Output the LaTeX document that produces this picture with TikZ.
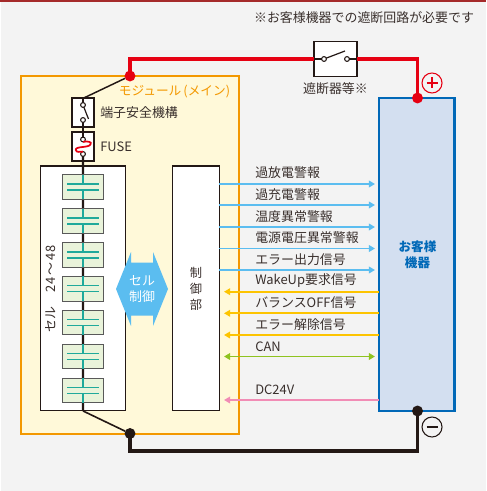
\documentclass[tikz,border=0pt]{standalone}
\usepackage{fontspec}
\setmainfont{Noto Sans CJK JP}
\usetikzlibrary{arrows.meta}

\definecolor{bgcol}{HTML}{F3F3F3}
\definecolor{topcol}{HTML}{A52A2A}
\definecolor{modcol}{HTML}{F39800}
\definecolor{modfill}{HTML}{FFF9D9}
\definecolor{custcol}{HTML}{0068B7}
\definecolor{custfill}{HTML}{D3DFF0}
\definecolor{redcol}{HTML}{E60012}
\definecolor{inkcol}{HTML}{231815}
\definecolor{cellfill}{HTML}{E9F3DA}
\definecolor{platecol}{HTML}{1FA99B}
\definecolor{skycol}{HTML}{5BBDF0}
\definecolor{yelcol}{HTML}{FDC400}
\definecolor{grncol}{HTML}{8FC31F}
\definecolor{pnkcol}{HTML}{F18CB5}

\begin{document}
\begin{tikzpicture}[x=0.75pt,y=-0.75pt]

\tikzstyle {panel}=[draw=inkcol,line width=0.8pt,fill=white,shape=rectangle,inner sep=0pt,outer sep=0pt];
\tikzstyle {termbox}=[draw=inkcol,line width=1.3pt,fill=white,shape=rectangle,inner sep=0pt,outer sep=0pt,
     minimum width=17pt,minimum height=21.5pt];
\tikzstyle {cellbox}=[draw=black!65,line width=0.8pt,fill=cellfill,shape=rectangle,inner sep=0pt,outer sep=0pt,
     minimum width=31pt,minimum height=18.5pt];
\tikzstyle {bigdot}=[shape=circle,inner sep=0pt,outer sep=0pt,minimum size=8.2pt];
\tikzstyle {pin}=[draw=inkcol,line width=0.8pt,fill=white,shape=circle,inner sep=0pt,outer sep=0pt,minimum size=3.6pt];
\tikzstyle {pole}=[shape=circle,line width=0.8pt,inner sep=0pt,outer sep=0pt,minimum size=15pt];
\tikzstyle {textlabel}=[text=inkcol!90,font=\fontsize{9.7}{11}\selectfont,inner sep=0pt];
\tikzstyle {siglabel}=[textlabel,anchor=west];
\tikzstyle {sigline}=[line width=1.4pt];
\tikzstyle {sigtip}=[-{Triangle[length=4.6pt,width=5pt]}];
\tikzstyle {sigback}=[{Triangle[length=4.6pt,width=5pt]}-];
\tikzstyle {wire}=[draw=inkcol,line width=1.6pt];

\newcommand*{\batcell}[2]{
\draw (83,#2) node [cellbox] (#1) {};
\draw [platecol,line width=1.1pt] (67,#2-3) -- (99,#2-3);
\draw [platecol,line width=1.1pt] (67,#2+3) -- (99,#2+3);
\draw [platecol,line width=1.1pt] (#1.north) -- +(0,9.3);
\draw [platecol,line width=1.1pt] (#1.south) -- +(0,-9.3);
}

% Ground
\useasboundingbox (0,0) rectangle (486,491);
\fill [bgcol] (1,0) rectangle (486,491);
\fill [topcol] (0,0) rectangle (486,2);

% Boxes
\draw (21,76) node [draw=modcol,line width=2pt,fill=modfill,shape=rectangle,inner sep=0pt,outer sep=0pt,
      minimum width=163.5pt,minimum height=268.5pt,anchor=north west] (module) {};
\draw (379,98) node [draw=custcol,line width=2pt,fill=custfill,shape=rectangle,inner sep=0pt,outer sep=0pt,
      minimum width=56.5pt,minimum height=234.7pt,anchor=north west] (cust) {};
\draw (40.5,166) node [panel,minimum width=63.7pt,minimum height=183.7pt,anchor=north west] (cells) {};
\draw (172.5,166) node [panel,minimum width=35.2pt,minimum height=183.7pt,anchor=north west] (ctrl) {};

% Main power lines
\draw (130,76) node [bigdot,fill=redcol] (modplus) {};
\draw (417.5,98) node [bigdot,fill=redcol] (custplus) {};
\draw (130,433.5) node [bigdot,fill=inkcol] (modminus) {};
\draw (417.5,411) node [bigdot,fill=inkcol] (custminus) {};
\draw (335.5,59) node [draw=inkcol,line width=1.2pt,fill=white,shape=rectangle,inner sep=0pt,outer sep=0pt,
      minimum width=32pt,minimum height=26pt] (breaker) {};
\draw [redcol,line width=2.4pt] (modplus.center) |- (breaker.west);
\draw [redcol,line width=2.4pt] (breaker.east) -| (custplus.center);
\draw [inkcol,line width=2.4pt] (modminus.center) |- (417.5,451) -- (custminus.center);

\draw (324,59) node [pin] (brk1) {};
\draw (347,59) node [pin] (brk2) {};
\draw [inkcol,line width=0.9pt] (breaker.west) -- (brk1);
\draw [inkcol,line width=0.9pt] (brk2) -- (breaker.east);
\draw [inkcol,line width=0.9pt] (brk1) -- (345,51);

% Terminal boxes
\draw (83,112.7) node [termbox] (safety) {};
\draw (83,146.7) node [termbox] (fuse) {};
\draw [wire,line width=1.1pt] (modplus) -- (safety.north);
\draw [wire,line width=1.2pt] (cells.south) -- (modminus);
\draw [wire] (safety.north) -- (83,105);
\draw [wire] (83,120) -- (fuse.north) -- (83,139.5);
\draw [wire] (83,154) -- (cells.south);
\draw (83,105) node [pin] (safe1) {};
\draw (83,120) node [pin] (safe2) {};
\draw [inkcol,line width=0.9pt] (safe1) -- (88.5,119);
\draw (83,139.5) node [pin] (fuse1) {};
\draw (83,154) node [pin] (fuse2) {};
\draw [redcol,line width=1.3pt] (fuse1.south) .. controls (87,141) and (92.5,141.5) .. (90.5,144.5)
      .. controls (88.5,148) and (75,146) .. (75.8,150) .. controls (76.3,153) and (81,151.5) .. (fuse2.north);

% Battery cells
\batcell{cell1}{187}
\batcell{cell2}{221}
\batcell{cell3}{255}
\batcell{cell4}{288.7}
\batcell{cell5}{322.6}
\batcell{cell6}{356.5}
\batcell{cell7}{390.5}

% Cell control arrow
\fill [skycol] (116,289) -- (131,252) -- (131,262.5) -- (153,262.5) -- (153,252) -- (168,289)
      -- (153,326) -- (153,315.5) -- (131,315.5) -- (131,326) -- cycle;
\draw (142,289) node [text=white,font=\fontsize{9.7}{12.5}\selectfont,align=center,inner sep=0pt]
      (cellctrltext) {セル\\制御};

% Signal ends
\coordinate (s1) at (375,184);
\coordinate (s2) at (375,205);
\coordinate (s3) at (375,227);
\coordinate (s4) at (375,248.5);
\coordinate (s5) at (375,270);
\coordinate (s6) at (224,291.7);
\coordinate (s7) at (224,313.3);
\coordinate (s8) at (224,335);
\coordinate (s9a) at (224,356.5);
\coordinate (s9b) at (375,356.5);
\coordinate (s10) at (224,400);

\draw [sigline,sigtip,skycol] (ctrl.east |- s1) -- (s1);
\draw [sigline,sigtip,skycol] (ctrl.east |- s2) -- (s2);
\draw [sigline,sigtip,skycol] (ctrl.east |- s3) -- (s3);
\draw [sigline,sigtip,skycol] (ctrl.east |- s4) -- (s4);
\draw [sigline,sigtip,skycol] (ctrl.east |- s5) -- (s5);
\draw [sigline,sigback,yelcol] (s6) -- (cust.west |- s6);
\draw [sigline,sigback,yelcol] (s7) -- (cust.west |- s7);
\draw [sigline,sigback,yelcol] (s8) -- (cust.west |- s8);
\draw [sigline,{Triangle[length=4.6pt,width=5pt]}-{Triangle[length=4.6pt,width=5pt]},grncol] (s9a) -- (s9b);
\draw [sigline,sigback,pnkcol] (s10) -- (cust.west |- s10);

% Labels
\draw (364,18) node [textlabel] (note) {※お客様機器での遮断回路が必要です};
\draw (335.5,89) node [textlabel] (breakertext) {遮断器等※};
\draw (174.5,92) node [textlabel,text=modcol,font=\fontsize{9.5}{11}\selectfont] (moduletext) {モジュール\,(メイン)};
\draw (100,113) node [siglabel] (safetytext) {端子安全機構};
\draw (100,147) node [siglabel] (fusetext) {FUSE};
\draw (51,289) node [textlabel,rotate=90] (celltext) {セル\hspace{1.1em}2\kern.3pt4\,～\,4\kern.3pt8};
\draw (196,288.5) node [textlabel,align=center,font=\fontsize{9.2}{12}\selectfont] (ctrltext) {制\\御\\部};
\draw (417.5,255) node [text=custcol,font=\bfseries\fontsize{9.4}{12}\selectfont,align=center,inner sep=0pt] (custtext) {お客様\\機器};

\draw (255,173) node [siglabel] (sigtext1) {過放電警報};
\draw (255,194.5) node [siglabel] (sigtext2) {過充電警報};
\draw (255,216.5) node [siglabel] (sigtext3) {温度異常警報};
\draw (255,238) node [siglabel] (sigtext4) {電源電圧異常警報};
\draw (255,259.5) node [siglabel] (sigtext5) {エラー出力信号};
\draw (255,281) node [siglabel] (sigtext6) {WakeUp要求信号};
\draw (255,303) node [siglabel] (sigtext7) {バランスOFF信号};
\draw (255,325) node [siglabel] (sigtext8) {エラー解除信号};
\draw (255,346.5) node [siglabel] (sigtext9) {CAN};
\draw (255,389.5) node [siglabel] (sigtext10) {DC24V};

% Polarity marks
\draw (432,83) node [pole,draw=redcol] (plusmark) {};
\draw [redcol,line width=1pt] (plusmark.center) +(-5.5,0) -- +(5.5,0) (plusmark.center) +(0,-5.5) -- +(0,5.5);
\draw (432,427) node [pole,draw=inkcol] (minusmark) {};
\draw [inkcol,line width=1pt] (minusmark.center) +(-5.5,0) -- +(5.5,0);
\end{tikzpicture}
\end{document}
